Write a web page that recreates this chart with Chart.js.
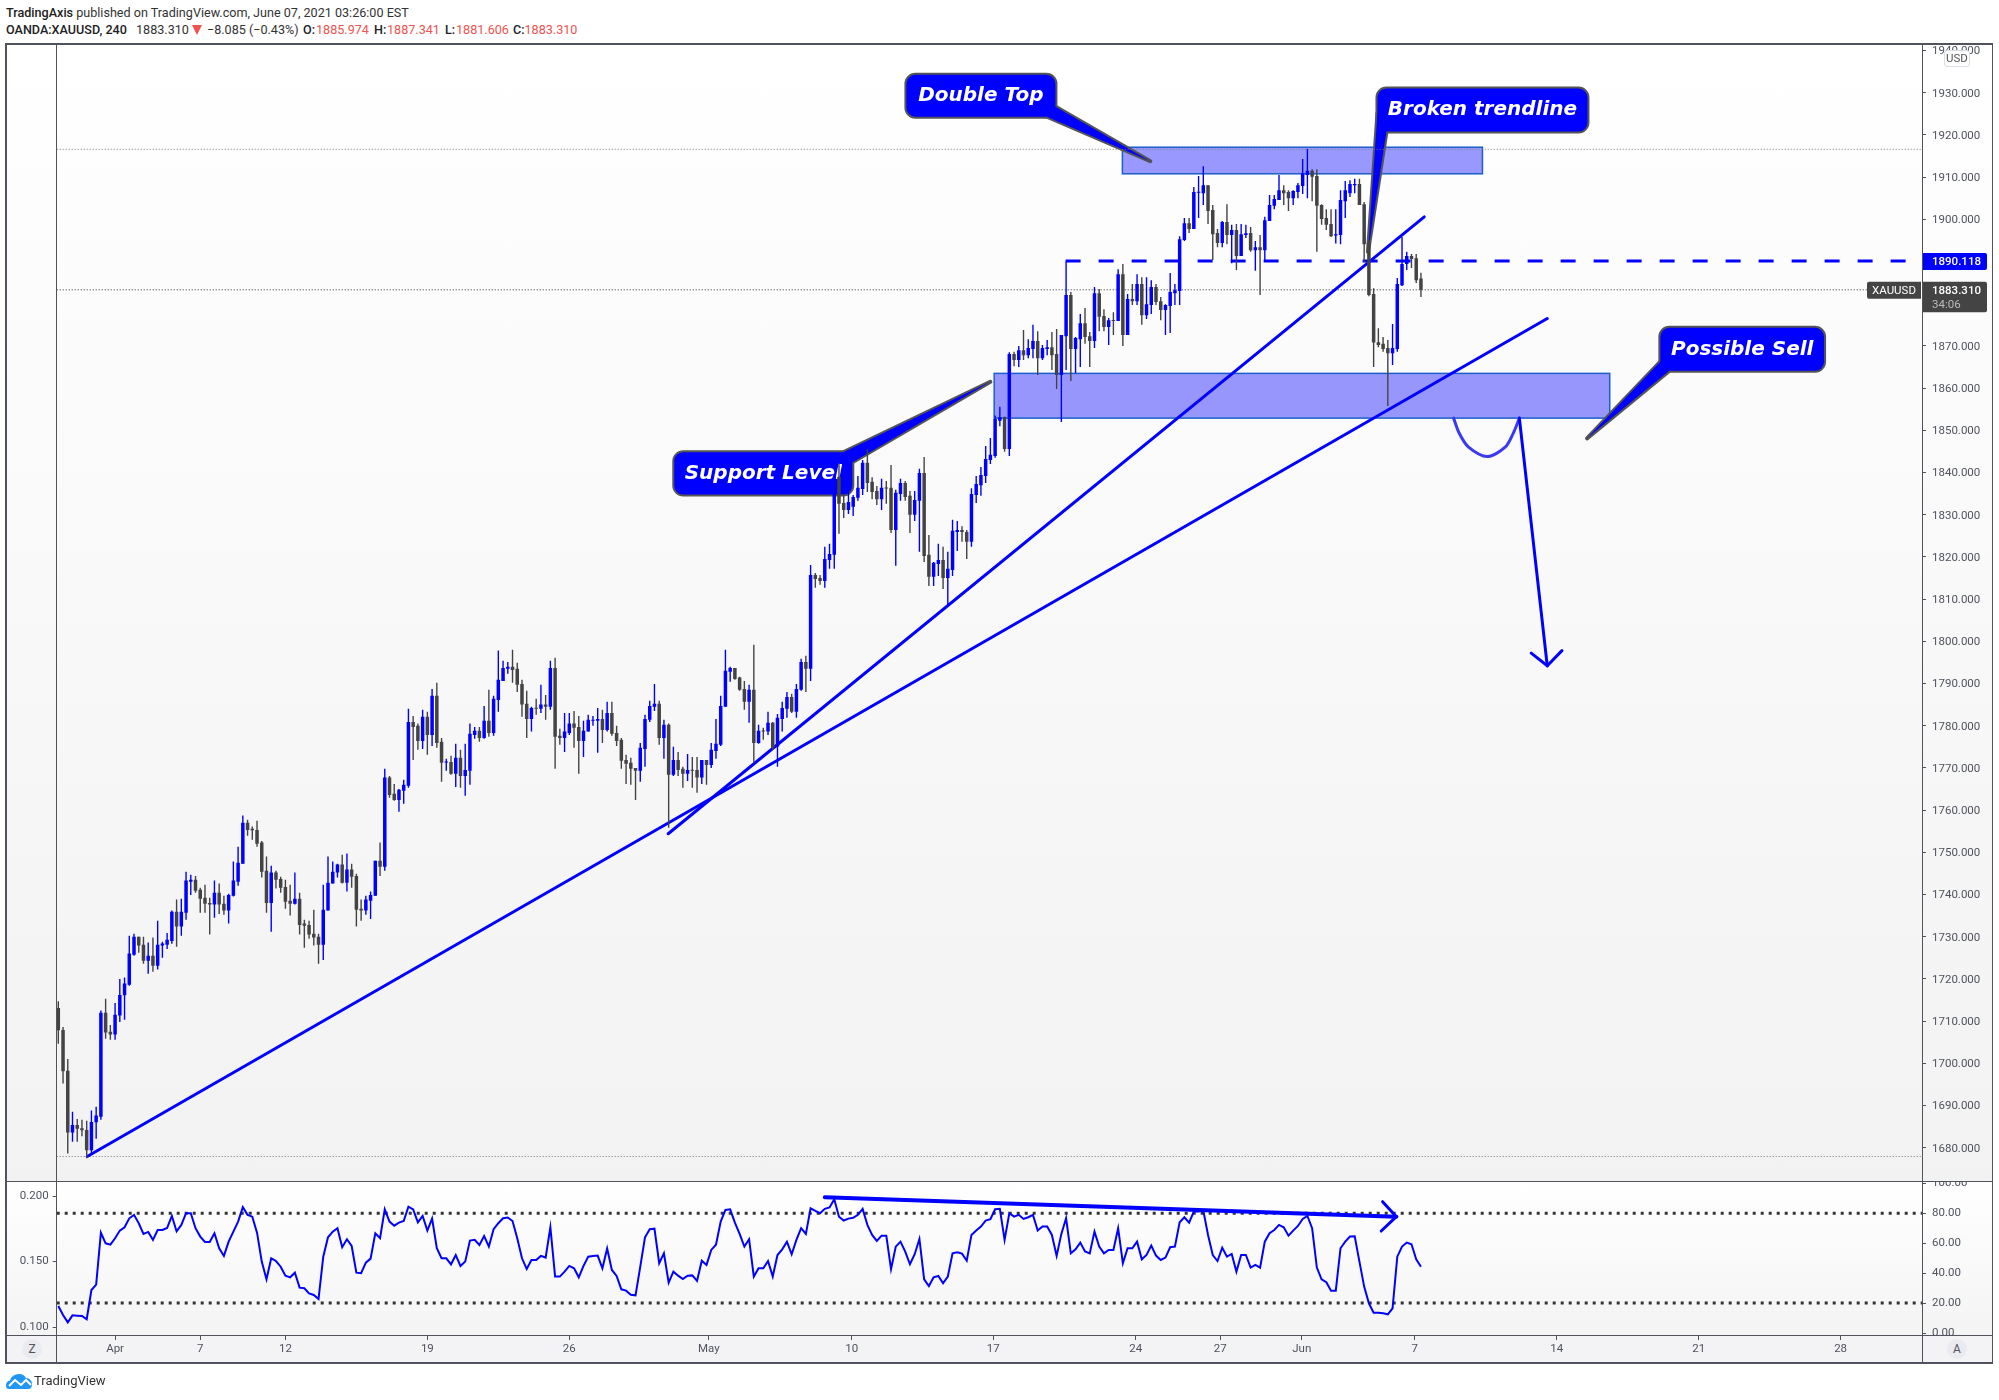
<!DOCTYPE html>
<html><head><meta charset="utf-8">
<script src="https://cdn.jsdelivr.net/npm/chart.js@4"></script>
<style>
html,body{margin:0;padding:0;background:#fff;width:1999px;height:1400px;overflow:hidden;font-family:Roboto,sans-serif}
.abs{position:absolute}
canvas{position:absolute;display:block}
.ln{position:absolute;background:#50535e}
.t{position:absolute;white-space:pre;font:12.6px Roboto,sans-serif;color:#333;left:6px}
.t b{font-weight:500;color:#222}.r{color:#ef5350}
.t span{position:absolute;top:0}
.tri{width:0;height:0;border-left:5px solid transparent;border-right:5px solid transparent;border-top:10px solid #ef5350;margin-top:3px}
.chip{position:absolute;width:20px;height:20px;border-radius:50%;background:#e9ebf0;color:#555;font:12px Roboto,sans-serif;text-align:center;line-height:20px}
</style></head><body>
<div class="abs" style="left:6px;top:43px;width:1986px;height:1138px;background:linear-gradient(#fff,#f2f2f2)"></div>
<div class="abs" style="left:6px;top:1181px;width:1986px;height:154px;background:linear-gradient(#fff,#f4f4f5)"></div>
<div class="t" style="top:5px"><b>TradingAxis</b> published on TradingView.com, June 07, 2021 03:26:00 EST</div>
<div class="t" style="top:22px;height:16px;width:600px"><b>OANDA:XAUUSD, 240</b><span style="left:130px">1883.310</span><span class="tri" style="left:186px"></span><span style="left:201px">−8.085 (−0.43%)</span><span style="left:297px"><b>O:</b></span><span class="r" style="left:310px">1885.974</span><span style="left:368px"><b>H:</b></span><span class="r" style="left:381px">1887.341</span><span style="left:439px"><b>L:</b></span><span class="r" style="left:450px">1881.606</span><span style="left:507px"><b>C:</b></span><span class="r" style="left:518.5px">1883.310</span></div>
<canvas id="main" width="1999" height="1181" style="left:0;top:0;width:1999px;height:1181px"></canvas>
<canvas id="sub" width="1999" height="182" style="left:0;top:1181px;width:1999px;height:182px"></canvas>
<div class="ln" style="left:5px;top:43px;width:1988px;height:1.5px"></div>
<div class="ln" style="left:5px;top:1362px;width:1988px;height:1.5px"></div>
<div class="ln" style="left:5px;top:43px;width:1.5px;height:1320px"></div>
<div class="ln" style="left:1991.5px;top:43px;width:1.5px;height:1320px"></div>
<div class="ln" style="left:56px;top:43px;width:1.2px;height:1320px"></div>
<div class="ln" style="left:1921.5px;top:43px;width:1.2px;height:1320px"></div>
<div class="ln" style="left:5px;top:1180.5px;width:1988px;height:1.5px"></div>
<div class="ln" style="left:5px;top:1334.5px;width:1988px;height:1.5px"></div>
<div class="abs" style="left:1944px;top:50px;width:26px;height:17px;box-sizing:border-box;background:#fff;border:1px solid #d8dce8;border-radius:3px;color:#555;font:11.5px/15px Roboto,sans-serif;text-align:center">USD</div>
<div class="chip" style="left:22px;top:1339px">Z</div>
<div class="chip" style="left:1947px;top:1339px">A</div>
<svg class="abs" style="left:6px;top:1374px" width="26" height="15" viewBox="0 0 26 15"><path d="M3 15 Q0 15 0 11.5 Q0 7 4 6.5 Q6 0 13 0 Q18 0 20 4 Q26 4.5 26 10.5 Q26 15 22 15 Z" fill="#2196f3"/><path d="M3 12 L9 6 L15 11 L20 6 L25 11" fill="none" stroke="#fff" stroke-width="2"/></svg>
<div class="abs" style="left:34px;top:1373px;font:13px Roboto,sans-serif;color:#333">TradingView</div>
<script>
const opens=[1713.1,1707.9,1698.2,1683.6,1685.4,1684.6,1684.2,1679.4,1686,1687.3,
1712,1707.5,1706.8,1711.3,1716.1,1718.6,1725.7,1730,1728.1,1724.3,
1725.5,1723.1,1727.9,1728.1,1729,1735.9,1732.4,1735.7,1743,1743.5,
1741.1,1739.2,1738,1737.6,1740.4,1737.8,1736.2,1739.7,1743,1747.3,
1757,1755.6,1755.3,1752.3,1745.6,1738,1745.2,1743.7,1741.8,1738.5,
1737.8,1739,1733.1,1732.8,1730.7,1730,1728.1,1736.2,1742.6,1745.2,
1747.1,1742.8,1745.9,1744.4,1736.6,1736.2,1738.5,1739.7,1748,1746.6,
1767.7,1763.9,1762.4,1764.6,1765.8,1780.9,1780,1776.4,1782.1,1777.8,
1787.1,1776.2,1771.3,1771.4,1768.6,1772.4,1768.1,1769.3,1777.8,1778.8,
1777.1,1781.2,1778.3,1786.1,1790.6,1793.5,1794,1793.5,1789.9,1785.2,
1781.6,1784.2,1784,1785,1784.5,1793.7,1777.6,1777.1,1778.3,1780.5,
1779.7,1776.4,1778.6,1781.2,1781.2,1781.6,1779,1783,1778.3,1776.7,
1771.9,1771.2,1770,1769.3,1774.5,1781.4,1784.5,1785.2,1777.1,1780.2,
1768.4,1771.9,1769.8,1768.6,1769.5,1769.5,1767.7,1771.9,1770.7,1774,
1775.5,1784.5,1792.8,1793.7,1791.4,1788.7,1785.7,1788.5,1775.9,1778.8,
1778.6,1780.7,1775.1,1781.6,1784,1786.8,1783.3,1788.5,1795.1,1793.5,
1815.7,1815,1814.3,1819.3,1820.5,1839,1832.8,1831.1,1831.9,1834,
1836.1,1842.3,1837.8,1835.6,1833.7,1836.4,1836.4,1826.4,1834.9,1837.5,
1834.5,1830,1833.3,1839.9,1820.5,1815.3,1818.3,1819.3,1815,1816.9,
1825.9,1826.4,1825.9,1823.6,1834.7,1837,1839.2,1843,1843.9,1852.3,
1853.1,1845.6,1868.1,1866.7,1869,1867.8,1869.3,1871.2,1867.1,1869.3,
1869.7,1868.1,1863.1,1872.3,1882.1,1869.3,1871.6,1875.4,1872.3,1871.2,
1882.5,1877.1,1874.5,1876.1,1875.9,1887,1872.6,1881.1,1880.6,1884.7,
1877.3,1879.7,1884,1880.6,1878.5,1879.5,1882.5,1883,1895.1,1899.1,
1897.7,1906.3,1906.2,1908.1,1902.2,1896.8,1894.4,1899.4,1896.3,1897.5,
1891.3,1896.3,1896.8,1892.7,1893.4,1892.7,1899.6,1903.2,1904.6,1906.9,
1906.5,1905,1906.5,1907.9,1910.5,1911.5,1910.3,1903.4,1900.3,1898.9,
1896.2,1896.3,1904.3,1906.2,1908.1,1908.4,1903.6,1894.4,1882.3,1870.9,
1870.5,1869.5,1868.3,1869.3,1884.4,1889.4,1891.3,1890.8,1885.974];
const closes=[1707.8,1698.1,1683.6,1685.4,1684.5,1684.1,1679.4,1686.1,1687.6,1712,
1707.3,1706.8,1711.5,1716.2,1718.9,1726,1730,1727.9,1724.3,1725.5,
1723.1,1728.1,1728.4,1729.3,1735.9,1732.4,1735.9,1743.3,1743.5,1740.9,
1739,1737.8,1737.6,1740.4,1737.6,1736.2,1739.9,1743.3,1747.5,1757,
1755.3,1755.2,1752,1745.4,1738,1745.2,1743.5,1741.6,1738.3,1737.8,
1739,1732.8,1732.6,1730.5,1729.8,1728.1,1736.4,1742.8,1745.4,1747.1,
1742.8,1745.9,1744.2,1736.4,1736.2,1738.8,1739.9,1748,1746.6,1767.7,
1763.6,1762.4,1764.8,1766,1780.9,1779.7,1776.4,1782.1,1777.8,1787.1,
1775.9,1771.2,1771.4,1768.6,1772.4,1768.1,1769.5,1778.1,1778.8,1777.1,
1781.2,1778.3,1786.4,1790.9,1793.7,1794,1793.2,1789.7,1785,1781.6,
1784.2,1784,1785,1784.5,1793.7,1777.4,1777.1,1778.6,1780.5,1779.5,
1776.4,1778.8,1781.4,1781.4,1781.6,1779,1783,1778.1,1776.4,1771.7,
1771,1769.8,1769.3,1774.8,1781.6,1784.7,1785.2,1777.1,1780.2,1768.4,
1771.9,1769.5,1768.6,1769.5,1769.3,1767.7,1771.9,1770.7,1774.3,1775.7,
1784.7,1793,1793.7,1791.1,1788.5,1785.7,1788.5,1775.9,1778.8,1778.6,
1780.7,1774.8,1781.9,1784.2,1786.8,1783.3,1788.7,1795.1,1793.5,1815.7,
1814.8,1814.3,1819.5,1820.7,1839,1832.6,1831.1,1833,1834.2,1836.4,
1842.3,1837.5,1835.4,1833.7,1836.4,1836.2,1826.4,1835.2,1837.5,1834.2,
1830,1833.5,1839.9,1820.2,1815.3,1818.6,1819.3,1815,1817.2,1826.2,
1826.4,1825.9,1823.6,1834.9,1837.3,1839.4,1843.2,1844.2,1852.7,1853.1,
1845.6,1868.1,1866.7,1869,1867.8,1869.5,1871.2,1867.1,1869.5,1869.7,
1867.8,1863.1,1872.6,1882.1,1869.3,1871.9,1875.4,1872.1,1871.2,1882.5,
1876.9,1874.5,1876.1,1875.9,1887,1872.6,1881.1,1880.6,1884.7,1877.3,
1879.9,1884,1880.4,1878.5,1879.7,1882.8,1883.2,1895.3,1899.1,1897.7,
1906.5,1906.5,1908.1,1902,1896.5,1894.4,1899.4,1896.3,1897.5,1891.3,
1896.5,1896.7,1892.7,1893.4,1892.7,1899.8,1903.4,1904.8,1906.9,1906.2,
1905,1906.7,1908.1,1911,1911.5,1910.1,1903.2,1900.1,1898.7,1896,
1896.5,1904.6,1906.9,1908.4,1908.4,1903.4,1894.1,1882.1,1870.8,1870.2,
1869.3,1868.3,1869.5,1884.7,1889.4,1891.3,1890.6,1885.6,1883.31];
const highs=[1714.7,1708.6,1701,1688.5,1686.8,1686.6,1686.4,1688.8,1689.7,1712.5,
1715.3,1709.1,1714.3,1720,1720.3,1730.2,1730.7,1730,1730,1728.6,
1729.8,1733.8,1728.8,1730.9,1736.2,1738.8,1739,1745.4,1744.7,1744.4,
1741.6,1742.3,1739.2,1743.3,1742.6,1739.7,1740.2,1747.8,1751.3,1758.7,
1757.7,1756.1,1757.5,1752.7,1749,1746.8,1745.6,1744.2,1743.5,1742.3,
1745.2,1740.4,1734,1733.8,1736.4,1730.7,1742.3,1749,1747.8,1747.3,
1749.4,1749.7,1747.3,1744.9,1738.8,1739.7,1740.7,1748,1752.3,1769.8,
1768.1,1766.2,1765,1767.2,1784,1782.3,1780.5,1783.8,1783.3,1788.7,
1790.2,1777.1,1772.2,1772.9,1775.7,1774.3,1775.7,1780.5,1779.7,1779.7,
1784.7,1788.5,1787.1,1797.8,1795.4,1795.1,1798,1794.9,1790.9,1788.3,
1784.5,1786.4,1789.7,1787.3,1795.4,1796.1,1779.3,1783,1783,1783.5,
1782.3,1781.2,1782.6,1782.3,1784.2,1783.8,1785.7,1785.7,1780,1777.1,
1773.1,1772.4,1770,1775.9,1782.6,1785.9,1789.9,1785.9,1781.4,1780.5,
1775,1773.8,1770.3,1773.3,1772.6,1772.6,1771.9,1771.9,1775.9,1781.6,
1787.1,1798,1794,1793.7,1791.6,1790.6,1789.7,1799.2,1780.2,1779.5,
1783.3,1780.9,1782.8,1785.7,1788,1787.6,1789.9,1795.9,1796.6,1818.1,
1816.2,1815.7,1822.4,1823.1,1839.8,1842.2,1834.7,1835.9,1834.7,1839.2,
1843,1845.6,1838.9,1836.8,1838.5,1838,1841.8,1835.9,1838.5,1838,
1835.6,1835.6,1840.9,1843.7,1825.2,1818.8,1823.1,1822.4,1821.2,1828.8,
1828.5,1827.3,1826.4,1836.3,1839.2,1841.3,1846.3,1848.2,1853.5,1855.6,
1853.3,1868.5,1868.6,1870,1873.8,1871.6,1875,1873.5,1870.2,1871.4,
1873.3,1874,1872.6,1890,1882.8,1872.1,1877.6,1879,1873.3,1884,
1883.5,1878.7,1876.6,1878,1888.2,1889.4,1882.3,1884.7,1887,1886.3,
1886.3,1885.6,1884.7,1881.6,1879.9,1887.3,1884.7,1896,1900.3,1900.3,
1907.7,1910.3,1912.6,1908.1,1903.4,1897.7,1899.6,1903.6,1898.7,1898.9,
1898.9,1898.7,1898.2,1894.9,1896.3,1900.6,1905.8,1905.8,1910.5,1908.1,
1906.9,1906.9,1908.6,1914.3,1916.7,1911.9,1911.9,1903.6,1902.4,1902.4,
1902.4,1906.9,1909.1,1909.3,1909.6,1909.6,1904.1,1895.1,1883.7,1874.2,
1872.1,1871.4,1875.2,1886.1,1895.8,1892.3,1891.8,1891.8,1887.341];
const lows=[1704.6,1695.2,1678.6,1681.4,1681.4,1682.7,1677.5,1678.3,1682.1,1686.6,
1705.8,1705.6,1705.6,1709.8,1710.3,1718.4,1725.5,1726.2,1723.6,1721.2,
1721.7,1722.2,1725,1727.1,1728.3,1727.6,1730.2,1734,1739.9,1740.4,
1735.7,1735.7,1730.5,1734.5,1735.4,1735.2,1733.1,1739.5,1742.1,1747.3,
1753.9,1753,1751.3,1744,1735.7,1731.2,1741.4,1740.4,1736.6,1735,
1737.6,1730.5,1727.4,1729.5,1727.9,1723.6,1724.5,1736.2,1742.6,1744,
1742.6,1740.7,1741.6,1732.4,1733.8,1735.2,1734.2,1739.7,1744.4,1745.6,
1762.9,1762.2,1759.6,1761.5,1765.3,1771.9,1774.3,1774.5,1773.1,1775.2,
1774.8,1766.7,1769.3,1768.4,1765.5,1765.3,1763.4,1766,1776.9,1776.2,
1776.9,1777.4,1777.6,1783.3,1790.6,1792.3,1790.2,1788,1782.1,1777.1,
1778.6,1782.6,1783,1781.4,1783.8,1769.8,1775.5,1773.8,1777.8,1774.8,
1768.6,1772.6,1778.6,1780,1773.6,1775.9,1778.6,1777.6,1775.2,1769.8,
1766.2,1766,1762.4,1766.7,1770.3,1780.9,1783.5,1775.5,1772.2,1755.8,
1768.1,1768.1,1765.3,1766.9,1765.3,1764.1,1766.2,1766,1770,1772.2,
1775.2,1784.5,1790.4,1790.9,1788.3,1783.8,1780.7,1771.1,1775.7,1776.7,
1777.8,1774.3,1770.3,1778.6,1781.9,1783,1781.9,1788.3,1788,1790.6,
1812.7,1813.4,1812.7,1817.2,1817.2,1825.5,1829.2,1830.2,1829.7,1833.3,
1834.7,1835.4,1833.7,1832.3,1831.1,1832.6,1825.7,1817.9,1833.3,1833.3,
1825.7,1828.5,1821.2,1818.8,1813.1,1813.1,1815.5,1812.4,1808.6,1815.5,
1821.4,1823.6,1819.5,1822.4,1832.8,1834.5,1837.5,1842,1843.5,1851,
1844.9,1843.9,1865.2,1865,1866.7,1867.1,1867.1,1863.1,1866.7,1867.8,
1864.3,1859.8,1852,1864.3,1861.7,1863.6,1865,1870.5,1865,1869.5,
1873.5,1873.5,1870.2,1872.6,1875.9,1870,1872.6,1879.7,1879.7,1875,
1876.4,1877.6,1879.7,1876.1,1872.6,1873.1,1879.7,1879.7,1894.9,1896.8,
1897.7,1900.3,1903.4,1898.9,1890.4,1893.4,1893.4,1894.1,1889.6,1888,
1891.3,1895.6,1892.3,1887.8,1882.1,1890.4,1899.6,1902.4,1904.6,1903.4,
1902,1903.4,1905,1906,1905,1904.3,1892.3,1898.7,1897.5,1895.8,
1894.3,1894.1,1900.3,1905.3,1906.2,1903.4,1889.9,1881.8,1865,1869.7,
1868.6,1855.8,1865.5,1868.6,1884.2,1888,1888.5,1884.9,1881.606];
const rsiValues=[18.1,12,7.1,11.8,11.6,11.4,9.2,28.7,32.3,67,
59.9,59,63.3,68.4,70.6,76.6,78.9,73.3,66.2,67.5,
62.2,68.8,68.8,70.2,78.2,67.9,72.2,80,80,70,
64.4,60.8,60.8,66.6,56.6,51.5,61,67.7,74.4,84,
78.9,77.7,67,47.7,35.9,49.9,48.1,44.3,38.3,37.2,
40.3,30.3,29.9,26.5,25.4,22.7,51,63.9,67.7,70,
57.3,62.6,58.1,40.3,39.9,47,49.7,66.6,63.3,82.6,
74.4,71.7,73.7,74.8,84.4,82.6,73.9,78.2,68.4,76.4,
56.6,49.9,49.9,45.9,52.1,44.8,47.7,61.7,62.2,58.8,
64.8,57.7,69.3,73.3,76.6,77.1,74.8,63.3,49.9,42.8,
48.8,48.8,51.5,50.4,70.6,37.7,37.7,41,44.8,43.2,
37.2,44.8,51,51.5,51.7,43.2,56.4,42.1,38.1,29.2,
28.3,25.6,25.2,44.3,63.9,69.3,69.7,46.6,53.2,33.6,
41,38.3,36.1,38.3,38.5,34.8,48.3,45.5,55.5,59,
74.4,82.2,82.6,73.7,66.2,57.7,62.6,37.7,43.2,43.2,
48.1,37.7,52.1,55.9,61,52.6,62.2,70,66.2,83.3,
81.5,80,82.9,83.8,89.3,77.7,75.1,76.4,76.9,78.9,
82.9,72.2,65.5,61.5,65,65,42.6,57.7,61,54.4,
45.9,52.6,62.8,35.9,31.4,37.2,38.1,33.2,37.7,53.2,
53.9,53,48.3,65.5,68.4,71.1,75.1,76,82.6,82.9,
62.2,80,77.7,78.9,76.2,77.3,78.9,68.4,71.1,71.1,
65.5,51.5,66.2,76.6,53.2,55.9,60.4,54.4,53.2,67.7,
57.7,53.2,55.5,55.5,70,46.6,56.6,56.6,61,49.2,
52.1,58.4,51.7,48.8,50.4,57.3,57.7,73.9,77.3,73.7,
81.1,81.1,81.8,65.5,52.1,48.1,57,51,52.8,41,
52.1,52.1,43.7,45.5,43.7,61,66.6,68.8,72.2,70.6,
65,68.4,71.5,76.2,78.2,70,43.7,35.9,33.9,28.3,
28.3,56.6,61,64.4,64.6,47.7,31,19.8,13.6,13.6,
13.2,12.5,16.5,51,57.7,60.4,59.3,49.2,44.3];
const priceTicks=[1680,1690,1700,1710,1720,1730,1740,1750,1760,1770,1780,1790,1800,1810,1820,1830,1840,1850,1860,1870,1880,1900,1910,1920,1930,1940];
const rsiTicks=[0,20,40,60,80,100];
const leftTicks=[0.1,0.15,0.2];
const timeTickIndex=[12,30,48,78,108,137.5,167.7,197.6,227.7,245.6,262.8,286.7,316.7,346.7,376.7];
const timeTickLabels=['Apr','7','12','19','26','May','10','17','24','27','Jun','7','14','21','28'];
const lastPrice=1883.31, alertPrice=1890.118, highLevel=1916.6, lowLevel=1677.9;
const rsiUpper=80, rsiLower=20;
// drawings, in (bar index, price) coordinates
const zoneTop=[224.9,301.0,1917.1,1910.8];
const zoneBottom=[197.8,327.9,1863.5,1852.9];
const trendLong=[[6.1,1677.9],[314.7,1876.5]];
const trendSteep=[[128.9,1754.4],[288.7,1900.6]];
const dashStart=212.9;
const bowl=[[294.9,1852.9],[296.1,1849.3],[298.0,1846.1],[302.0,1843.8],[305.8,1846],[307.5,1849.3],[308.8,1852.9]];
const arrowShaft=[[308.8,1852.9],[314.7,1794.2]];
const arrowHead=[[311.3,1797.2],[314.7,1794.2],[317.8,1797.8]];
const divergence=[[162,90.6],[282.8,77.7]];
const divergenceHead=[[279.9,87.7],[282.8,77.7],[279.6,68.1]];
const callouts=[
 {text:'Double Top',cx:195.0,cy:1929.3,w:149,h:42,tip:[230.8,1913.8],base:[[74.6,11],[66,21]]},
 {text:'Broken trendline',cx:301.0,cy:1925.9,w:210,h:43,tip:[276.8,1892.3],base:[[-105,3],[-96,21.5]]},
 {text:'Support Level',cx:149.0,cy:1839.8,w:178,h:42.4,tip:[197.0,1861.5],base:[[80,-21.2],[89,-11]]},
 {text:'Possible Sell',cx:355.9,cy:1869.2,w:163.7,h:43,tip:[323.1,1848.1],base:[[-81.8,12.2],[-73,21.5]]}
];

const xMin=-0.34,xMax=393.9;
const BLUE='#0000ff',DARK='#434343',AXIS='#50535e';
const tickFont={family:'Roboto',size:11.5};
const idx=opens.map((_,i)=>i);
const up=idx.map(i=>closes[i]>=opens[i]);
const candleColors=up.map(u=>u?BLUE:DARK);
const pts=a=>a.map(p=>({x:p[0],y:p[1]}));
function lineDs(points,extra){return Object.assign({type:'line',data:pts(points),borderColor:BLUE,borderWidth:3,pointRadius:0,fill:false,tension:0,order:5,borderCapStyle:'round'},extra||{});}
function fixAxis(w){return s=>{s.width=w;s.paddingTop=0;s.paddingBottom=0;};}
function rrect(c,x,y,w,h,r){c.beginPath();c.roundRect(x,y,w,h,r);}

const drawings={id:'drawings',
 beforeDatasetsDraw(chart){
  const c=chart.ctx,X=chart.scales.x,Y=chart.scales.y;
  c.save();
  for(const z of [zoneTop,zoneBottom]){
   const l=X.getPixelForValue(z[0]),r=X.getPixelForValue(z[1]),t=Y.getPixelForValue(z[2]),b=Y.getPixelForValue(z[3]);
   c.fillStyle='rgba(0,0,255,0.4)';c.fillRect(l,t,r-l,b-t);
   c.strokeStyle='#1a5fcc';c.lineWidth=1.5;c.strokeRect(l,t,r-l,b-t);
  }
  for(const o of callouts){
   const px=X.getPixelForValue(o.cx),py=Y.getPixelForValue(o.cy);
   const tx=X.getPixelForValue(o.tip[0]),ty=Y.getPixelForValue(o.tip[1]);
   const x=px-o.w/2,y=py-o.h/2;
   const tail=()=>{c.beginPath();c.moveTo(px+o.base[0][0],py+o.base[0][1]);c.lineTo(tx,ty);c.lineTo(px+o.base[1][0],py+o.base[1][1]);c.closePath();};
   c.lineJoin='round';c.strokeStyle='#555';c.lineWidth=4;
   tail();c.stroke();rrect(c,x,y,o.w,o.h,9);c.stroke();
   c.fillStyle=BLUE;tail();c.fill();rrect(c,x,y,o.w,o.h,9);c.fill();
   c.fillStyle='#fff';c.font='italic bold 20px "DejaVu Sans"';c.textAlign='center';c.textBaseline='middle';
   c.fillText(o.text,px,py);
  }
  c.restore();
 },
 afterDraw(chart){
  const c=chart.ctx,Y=chart.scales.y,R=chart.chartArea.right;
  c.save();c.textBaseline='middle';c.textAlign='left';
  const ya=Y.getPixelForValue(alertPrice);
  c.fillStyle=BLUE;rrect(c,R,ya-8,65,17,[0,2,2,0]);c.fill();
  c.fillStyle='#fff';c.font='500 11.5px Roboto';c.fillText(alertPrice.toFixed(3),R+10,ya+1);
  const yl=Y.getPixelForValue(lastPrice);
  c.fillStyle='#444';rrect(c,R,yl-8,65,30.5,[0,2,2,0]);c.fill();
  c.fillStyle='#fff';c.fillText(lastPrice.toFixed(3),R+10,yl+1);
  c.fillStyle='#bbb';c.font='11.5px Roboto';c.fillText('34:06',R+10,yl+15);
  c.fillStyle='#444';rrect(c,R-55,yl-8,54,17,[2,0,0,2]);c.fill();
  c.fillStyle='#fff';c.textAlign='center';c.fillText('XAUUSD',R-28,yl+1);
  c.restore();
 }};

new Chart(document.getElementById('main'),{
 type:'bar',
 data:{datasets:[
  {type:'bar',label:'body',data:idx.map(i=>({x:i,y:[opens[i],closes[i]]})),backgroundColor:candleColors,barThickness:3.5,grouped:false,minBarLength:1,inflateAmount:0,order:0},
  {type:'bar',label:'wick',data:idx.map(i=>({x:i,y:[lows[i],highs[i]]})),backgroundColor:candleColors,barThickness:1.4,grouped:false,inflateAmount:0,order:1},
  lineDs(trendLong),lineDs(trendSteep),lineDs(arrowShaft),lineDs(arrowHead),
  lineDs(bowl,{tension:0.3,borderColor:'#3a3af0'}),
  lineDs([[dashStart,alertPrice],[xMax,alertPrice]],{borderDash:[15,18],borderCapStyle:'butt'}),
  lineDs([[xMin,highLevel],[xMax,highLevel]],{borderColor:'#777',borderWidth:1,borderDash:[1,2],borderCapStyle:'butt',order:6}),
  lineDs([[xMin,lowLevel],[xMax,lowLevel]],{borderColor:'#777',borderWidth:1,borderDash:[1,2],borderCapStyle:'butt',order:6}),
  lineDs([[xMin,lastPrice],[xMax,lastPrice]],{borderColor:'#333',borderWidth:1,borderDash:[1,2],borderCapStyle:'butt',order:6})
 ]},
 plugins:[drawings],
 options:{responsive:false,animation:false,devicePixelRatio:1,
  layout:{padding:{left:56.7,right:7,top:43,bottom:0}},
  plugins:{legend:{display:false},tooltip:{enabled:false}},
  scales:{
   x:{type:'linear',display:false,min:xMin,max:xMax,offset:false,grid:{display:false}},
   y:{type:'linear',position:'right',min:1672.1,max:1941.8,afterFit:fixAxis(70),
    afterBuildTicks:s=>{s.ticks=priceTicks.map(v=>({value:v}));},
    border:{display:false},
    grid:{drawOnChartArea:false,drawTicks:true,tickLength:4,tickColor:AXIS},
    ticks:{font:tickFont,color:'#50535e',padding:6,labelOffset:1,autoSkip:false,callback:v=>Number(v).toFixed(3)}}
  }}
});

const bandCover={id:'bandCover',beforeDatasetsDraw(chart){
 const c=chart.ctx,b=chart.chartArea.bottom;
 c.save();c.fillStyle='#f3f3f5';c.fillRect(6,b,1986,chart.height-b);c.restore();
}};
new Chart(document.getElementById('sub'),{
 type:'line',
 data:{datasets:[
  lineDs(divergence,{borderWidth:4,order:0,yAxisID:'y'}),
  lineDs(divergenceHead,{borderWidth:3,order:0,yAxisID:'y'}),
  {type:'line',data:idx.map(i=>({x:i,y:rsiValues[i]})),borderColor:BLUE,borderWidth:2,pointRadius:0,tension:0,order:1,yAxisID:'y'},
  lineDs([[xMin,rsiUpper],[xMax,rsiUpper]],{borderColor:'#333',borderWidth:3,borderDash:[3,5],borderCapStyle:'butt',order:2,yAxisID:'y'}),
  lineDs([[xMin,rsiLower],[xMax,rsiLower]],{borderColor:'#333',borderWidth:3,borderDash:[3,5],borderCapStyle:'butt',order:2,yAxisID:'y'})
 ]},
 plugins:[bandCover],
 options:{responsive:false,animation:false,devicePixelRatio:1,
  layout:{padding:{left:6,right:7,top:0,bottom:0}},
  plugins:{legend:{display:false},tooltip:{enabled:false}},
  scales:{
   x:{type:'linear',position:'bottom',min:xMin,max:xMax,
    afterBuildTicks:s=>{s.ticks=timeTickIndex.map(v=>({value:v}));},
    afterFit:s=>{s.height=28;s.paddingLeft=0;s.paddingRight=0;},
    border:{display:false},
    grid:{z:1,drawOnChartArea:false,drawTicks:true,tickLength:5,tickColor:AXIS},
    ticks:{z:1,font:tickFont,color:'#50535e',padding:2,autoSkip:false,maxRotation:0,callback:(v,i)=>timeTickLabels[i]}},
   y:{type:'linear',position:'right',min:-1.3,max:101.5,afterFit:fixAxis(70),
    afterBuildTicks:s=>{s.ticks=rsiTicks.map(v=>({value:v}));},
    border:{display:false},
    grid:{drawOnChartArea:false,drawTicks:true,tickLength:4,tickColor:AXIS},
    ticks:{font:tickFont,color:'#50535e',padding:6,autoSkip:false,callback:v=>Number(v).toFixed(2)}},
   y2:{type:'linear',position:'left',min:0.0939,max:0.2115,afterFit:fixAxis(50.7),
    afterBuildTicks:s=>{s.ticks=leftTicks.map(v=>({value:v}));},
    border:{display:false},
    grid:{drawOnChartArea:false,drawTicks:true,tickLength:4,tickColor:AXIS},
    ticks:{font:tickFont,color:'#50535e',padding:4,autoSkip:false,callback:v=>Number(v).toFixed(3)}}
  }}
});
</script>
</body></html>
